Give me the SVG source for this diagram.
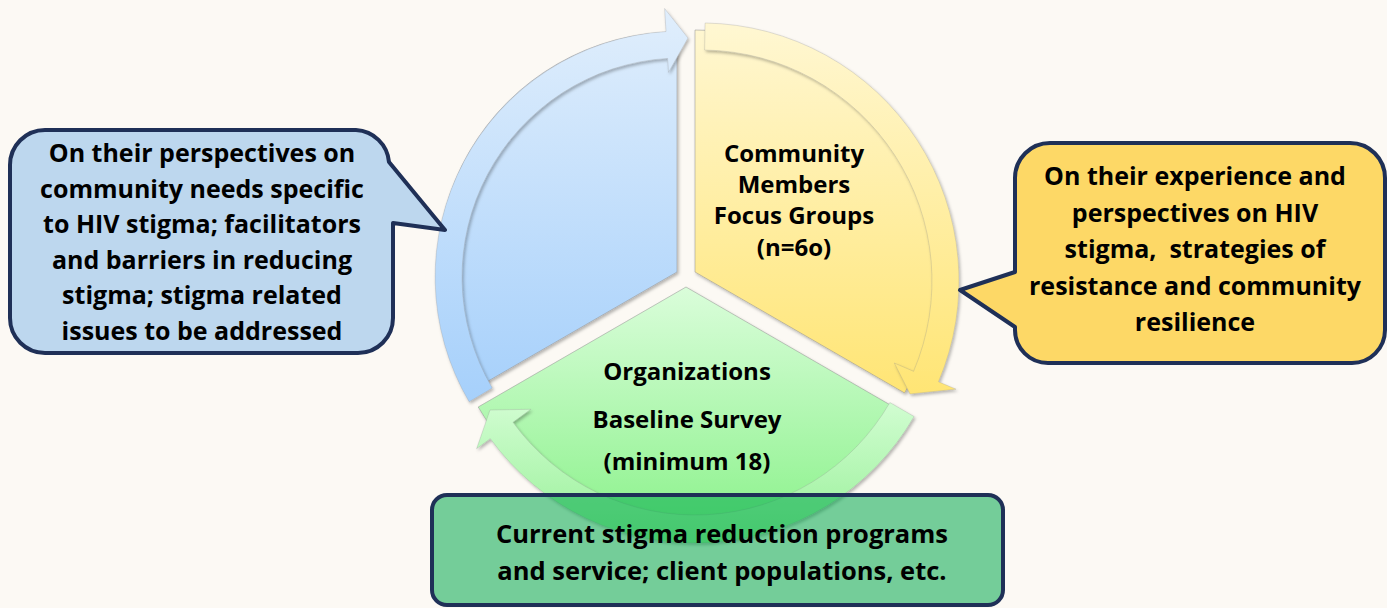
<svg xmlns="http://www.w3.org/2000/svg" width="1387" height="608" viewBox="0 0 1387 608">
<defs>
<linearGradient id="gBlue" gradientUnits="userSpaceOnUse" x1="0" y1="10" x2="0" y2="400"><stop offset="0" stop-color="#E0EEFC"/><stop offset="1" stop-color="#A6D0FB"/></linearGradient>
<linearGradient id="gYel" gradientUnits="userSpaceOnUse" x1="0" y1="25" x2="0" y2="395"><stop offset="0" stop-color="#FFF7D2"/><stop offset="1" stop-color="#FFE574"/></linearGradient>
<linearGradient id="gGrn" gradientUnits="userSpaceOnUse" x1="0" y1="287" x2="0" y2="530"><stop offset="0" stop-color="#DAFDDA"/><stop offset="1" stop-color="#8CF28C"/></linearGradient>
<linearGradient id="gGrnBand" gradientUnits="userSpaceOnUse" x1="0" y1="400" x2="0" y2="545"><stop offset="0" stop-color="#D2FDD2"/><stop offset="1" stop-color="#96F096"/></linearGradient>
<filter id="sh" x="-10%" y="-10%" width="130%" height="130%"><feDropShadow dx="1.5" dy="2" stdDeviation="1.8" flood-color="#000" flood-opacity="0.28"/></filter>
<style>
.pie{stroke:#8f8f8f;stroke-opacity:0.5;stroke-width:1;filter:url(#sh)}
.band{stroke:#8a8a8a;stroke-opacity:0.25;stroke-width:1;filter:url(#sh)}
.lbl{font-family:"Open Sans","Liberation Sans",sans-serif;font-weight:700;font-size:24px;fill:#000;text-anchor:middle}
.co{font-family:"Open Sans","Liberation Sans",sans-serif;font-weight:700;font-size:25px;fill:#000;text-anchor:middle;white-space:pre}
.big{font-size:25.5px}
.callout{stroke:#1F3057;stroke-width:4;stroke-linejoin:round}
</style>
</defs>
<rect width="1387" height="608" fill="#FCF9F4"/>
<g id="seg-blue">
<path class="pie" d="M677,272 L677,32 A240,240 0 0 0 469.2,392 Z" fill="url(#gBlue)"/>
</g>
<g id="seg-yellow">
<path class="pie" d="M695,272 L695,30 A242,242 0 0 1 904.6,393 Z" fill="url(#gYel)"/>
<text class="lbl"><tspan x="794" y="162">Community</tspan><tspan x="794" y="193">Members</tspan><tspan x="794" y="224">Focus Groups</tspan><tspan x="794" y="256">(n=6o)</tspan></text>
</g>
<g id="seg-green">
<path class="pie" d="M686,287 L893.8,407 A240,240 0 0 1 478.2,407 Z" fill="url(#gGrn)"/>
<text class="lbl"><tspan x="687" y="380">Organizations</tspan><tspan x="687" y="428">Baseline Survey</tspan><tspan x="687" y="470">(minimum 18)</tspan></text>
</g>
<g id="connectors">
<path class="band" d="M469.1,401.8 A246,246 0 0 1 666,31.5 L664.6,8.5 L688,38 L668.5,72.4 L667.6,58.4 A219,219 0 0 0 492.3,388.1 Z" fill="url(#gBlue)"/>
<path class="band" d="M705.1,23 A258,258 0 0 1 938.5,381.8 L956,389.2 L910,394 L894.3,363 L913.6,371.3 A231,231 0 0 0 704.6,50 Z" fill="url(#gYel)"/>
<path class="band" d="M914.1,416.5 A253,253 0 0 1 490.3,438.7 L476.6,448.7 L490,410 L530.8,409.3 L513,422.3 A225,225 0 0 0 889.9,402.5 Z" fill="url(#gGrnBand)"/>
</g>
<g id="callout-left">
<path class="callout" fill="#BDD7EE" d="M45,130 H356 A35,35 0 0 1 389,162 L445,230 L393,223 V318 A35,35 0 0 1 358,353 H45 A35,35 0 0 1 10,318 V165 A35,35 0 0 1 45,130 Z"/>
<text class="co"><tspan x="202" y="162">On their perspectives on</tspan><tspan x="202" y="197.5">community needs specific</tspan><tspan x="202" y="233">to HIV stigma; facilitators</tspan><tspan x="202" y="268.5">and barriers in reducing</tspan><tspan x="202" y="304">stigma; stigma related</tspan><tspan x="202" y="340">issues to be addressed</tspan></text>
</g>
<g id="callout-right">
<path class="callout" fill="#FDD866" d="M1050,143 H1350 A35,35 0 0 1 1385,178 V330 A33,33 0 0 1 1352,363 H1048 A33,33 0 0 1 1015,330 V327 L960,290 L1015,272 V178 A35,35 0 0 1 1050,143 Z"/>
<text class="co"><tspan x="1195" y="185">On their experience and</tspan><tspan x="1195" y="221.5">perspectives on HIV</tspan><tspan x="1195" y="258">stigma,  strategies of</tspan><tspan x="1195" y="294.5">resistance and community</tspan><tspan x="1195" y="330.5">resilience</tspan></text>
</g>
<g id="box-bottom">
<rect class="callout" x="432" y="495" width="571" height="110" rx="15" fill="#00A84C" fill-opacity="0.54"/>
<text class="co big"><tspan x="722" y="543">Current stigma reduction programs</tspan><tspan x="722" y="580">and service; client populations, etc.</tspan></text>
</g>
</svg>
